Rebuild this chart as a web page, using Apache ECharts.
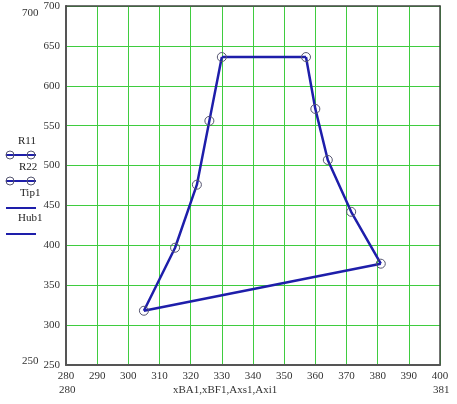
<!DOCTYPE html>
<html><head><meta charset="utf-8">
<script src="https://cdn.jsdelivr.net/npm/echarts@6/dist/echarts.min.js"></script>
<style>html,body{margin:0;padding:0;background:#fff}#c{width:457px;height:404px}</style>
</head><body><div id="c"></div>
<script>
const r11 = [[305,318],[315,397],[322,476],[326,556],[330,636]];
const r22 = [[381,377],[371.5,442],[364,507],[360,571],[357,636]];
const tip1 = [[330,636],[357,636]];
const hub1 = [[305,318],[381,377]];
const xTicks = {min:280, max:400, step:10};
const yTicks = {min:250, max:700, step:50};
const xTitle = 'xBA1,xBF1,Axs1,Axi1';
const legendNames = ['R11','R22','Tip1','Hub1'];

const blue = '#1e1eaa';
const font = 'Liberation Serif';
const chart = echarts.init(document.getElementById('c'), null, {renderer:'canvas'});
const lineSeries = (name, data, sym) => ({
  name, type:'line', data, showSymbol: sym, symbol:'circle', symbolSize:9,
  lineStyle:{color:blue, width:2.5}, itemStyle:{color:'rgba(0,0,0,0)', borderColor:'#555570', borderWidth:1},
  z: 3, animation:false, silent:true
});
const frameAxis = (pos) => ({type:'value', position:pos, min: pos==='top'?xTicks.min:yTicks.min,
  max: pos==='top'?xTicks.max:yTicks.max,
  axisLine:{show:true, onZero:false, lineStyle:{color:'#444', width:1.5}},
  axisTick:{show:false}, axisLabel:{show:false}, splitLine:{show:false}});
chart.setOption({
  animation:false,
  backgroundColor:'#fff',
  grid:{left:66, right:17, top:6, bottom:39},
  xAxis:[{type:'value', min:xTicks.min, max:xTicks.max, interval:xTicks.step,
    axisLine:{show:true, onZero:false, lineStyle:{color:'#555', width:2}},
    axisTick:{show:false},
    axisLabel:{color:'#333', fontFamily:font, fontSize:11, margin:6},
    splitLine:{show:true, lineStyle:{color:'#3fcc3f', width:1}}}, frameAxis('top')],
  yAxis:[{type:'value', min:yTicks.min, max:yTicks.max, interval:yTicks.step,
    axisLine:{show:true, onZero:false, lineStyle:{color:'#555', width:2}},
    axisTick:{show:false},
    axisLabel:{color:'#333', fontFamily:font, fontSize:11, margin:6},
    splitLine:{show:true, lineStyle:{color:'#3fcc3f', width:1}}}, frameAxis('right')],
  series:[
    lineSeries(legendNames[0], r11, true),
    lineSeries(legendNames[1], r22, true),
    lineSeries(legendNames[2], tip1, false),
    lineSeries(legendNames[3], hub1, false)
  ],
  graphic:[
    {type:'text', left:22, top:8, style:{text:String(yTicks.max), fill:'#333', font:'11px '+font}},
    {type:'text', left:22, top:356, style:{text:String(yTicks.min), fill:'#333', font:'11px '+font}},
    {type:'text', left:59, top:385, style:{text:String(xTicks.min), fill:'#333', font:'11px '+font}},
    {type:'text', left:433, top:385, style:{text:'381', fill:'#333', font:'11px '+font}},
    {type:'text', left:173, top:385, style:{text:xTitle, fill:'#333', font:'11px '+font}},
    {type:'text', left:18, top:136, style:{text:legendNames[0], fill:'#222', font:'11px '+font}},
    {type:'line', shape:{x1:6,y1:155,x2:36,y2:155}, style:{stroke:blue, lineWidth:2}},
    {type:'circle', shape:{cx:10,cy:155,r:4}, style:{fill:'none', stroke:'#555570', lineWidth:1}},
    {type:'circle', shape:{cx:31,cy:155,r:4}, style:{fill:'none', stroke:'#555570', lineWidth:1}},
    {type:'text', left:19, top:162, style:{text:legendNames[1], fill:'#222', font:'11px '+font}},
    {type:'line', shape:{x1:6,y1:181,x2:36,y2:181}, style:{stroke:blue, lineWidth:2}},
    {type:'circle', shape:{cx:10,cy:181,r:4}, style:{fill:'none', stroke:'#555570', lineWidth:1}},
    {type:'circle', shape:{cx:31,cy:181,r:4}, style:{fill:'none', stroke:'#555570', lineWidth:1}},
    {type:'text', left:20, top:188, style:{text:legendNames[2], fill:'#222', font:'11px '+font}},
    {type:'line', shape:{x1:6,y1:208,x2:36,y2:208}, style:{stroke:blue, lineWidth:2}},
    {type:'text', left:18, top:213, style:{text:legendNames[3], fill:'#222', font:'11px '+font}},
    {type:'line', shape:{x1:6,y1:234,x2:36,y2:234}, style:{stroke:blue, lineWidth:2}}
  ]
});
</script></body></html>
